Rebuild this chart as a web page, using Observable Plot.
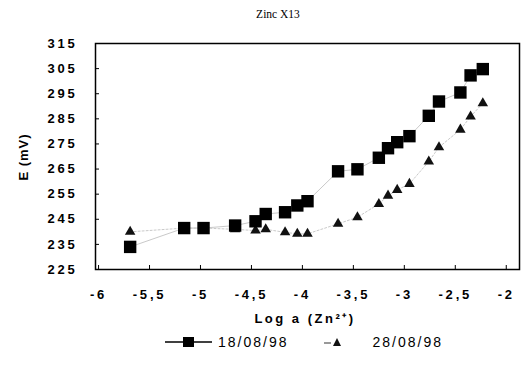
<!DOCTYPE html>
<html><head><meta charset="utf-8">
<script src="https://cdn.jsdelivr.net/npm/d3@7"></script>
<script src="https://cdn.jsdelivr.net/npm/@observablehq/plot@0.6"></script>
<style>
body{margin:0;background:#fff;}
#wrap{position:relative;width:525px;height:365px;overflow:hidden;}
.t{position:absolute;white-space:nowrap;color:#000;line-height:1;}
</style></head><body><div id="wrap"></div>
<script>
const logA  = [-5.69,-5.16,-4.97,-4.66,-4.46,-4.36,-4.17,-4.05,-3.95,-3.65,-3.46,-3.25,-3.16,-3.07,-2.95,-2.76,-2.66,-2.45,-2.35,-2.23];
const e1808 = [234,241.5,241.5,242.5,244.2,247.1,247.8,250.5,252.2,264.1,264.9,269.5,273.3,275.7,278.1,286.2,291.9,295.5,302.3,304.8];
const e2808 = [240,241.5,241.5,241,240.5,241,239.8,239.2,239.2,243.2,245.8,251.1,254.4,256.7,259.1,268,273.7,280.7,285.9,291.2];
const xTicks = [-6,-5.5,-5,-4.5,-4,-3.5,-3,-2.5,-2];
const yTicks = [225,235,245,255,265,275,285,295,305,315];
const seriesNames = ["18/08/98","28/08/98"];
const titleText = "Zinc X13";
const xLabel = "Log a (Zn²⁺)";
const yLabel = "E (mV)";

const s1 = logA.map((x,i)=>({x, y:e1808[i]}));
const s2 = logA.map((x,i)=>({x, y:e2808[i]}));
const fmt = d => String(d).replace(".", ",");
const tickFont = {fontFamily:"Liberation Sans, Arial, sans-serif", fontWeight:"bold", fontSize:"13px", letterSpacing:"2.8px"};

const chart = Plot.plot({
  width:525, height:365,
  marginLeft:95, marginRight:6, marginTop:43, marginBottom:96,
  style:{background:"white", color:"black", ...tickFont},
  x:{domain:[-6.03,-1.87]},
  y:{domain:[225,315]},
  marks:[
    Plot.axisX({ticks:xTicks, tickSize:0, tickPadding:20, tickFormat:fmt, label:null, fontSize:13, fontWeight:"bold"}),
    Plot.axisX({ticks:xTicks, tickSize:-4, tickFormat:()=>"", label:null}),
    Plot.axisY({ticks:yTicks, tickSize:0, tickPadding:18, label:null, fontSize:13}),
    Plot.axisY({ticks:yTicks, tickSize:-4, tickFormat:()=>"", label:null}),
    Plot.line(s2, {x:"x", y:"y", stroke:"#bbb", strokeWidth:0.8, strokeDasharray:"2,2"}),
    Plot.line(s1, {x:"x", y:"y", stroke:"#bbb", strokeWidth:0.8}),
    Plot.dot(s2, {x:"x", y:"y", symbol:"triangle", r:3.9, fill:"#111", stroke:"none"}),
    Plot.dot(s1, {x:"x", y:"y", symbol:"square", r:7, fill:"#000", stroke:"none"}),
    Plot.frame({stroke:"black", strokeWidth:1.5})
  ]
});
const wrap = document.getElementById("wrap");
chart.style.position="absolute"; chart.style.left="0"; chart.style.top="0";
wrap.appendChild(chart);

function addText(txt, css){
  const d=document.createElement("div"); d.className="t"; d.textContent=txt;
  Object.assign(d.style, css); wrap.appendChild(d); return d;
}
addText(titleText, {left:"278px", top:"15px", transform:"translate(-50%,-50%)", fontFamily:"Liberation Serif, Times New Roman, serif", fontSize:"11.5px"});
addText(xLabel, {left:"305px", top:"318px", transform:"translate(-50%,-50%)", fontFamily:"Liberation Sans, Arial, sans-serif", fontWeight:"bold", fontSize:"13px", letterSpacing:"2.5px"});
addText(yLabel, {left:"23px", top:"157px", transform:"translate(-50%,-50%) rotate(-90deg)", fontFamily:"Liberation Sans, Arial, sans-serif", fontWeight:"bold", fontSize:"13px", letterSpacing:"1px"});

// legend
const leg = document.createElement("div");
leg.className="t";
Object.assign(leg.style,{left:"164px", top:"334px", height:"16px", display:"flex", alignItems:"center", fontFamily:"Liberation Sans, Arial, sans-serif", fontSize:"14px", letterSpacing:"2px"});
leg.innerHTML =
 `<svg width="50" height="16"><line x1="1" y1="8" x2="48" y2="8" stroke="#000" stroke-width="1.5"/><rect x="19" y="3" width="11" height="10" fill="#000"/></svg>`+
 `<span style="margin-left:4px">${seriesNames[0]}</span>`+
 `<svg width="22" height="16" style="margin-left:34px"><line x1="1" y1="9" x2="8" y2="9" stroke="#555" stroke-width="1.2"/><path d="M14,4 L18,12 L10,12 Z" fill="#111"/></svg>`+
 `<span style="margin-left:28px">${seriesNames[1]}</span>`;
wrap.appendChild(leg);
</script></body></html>
